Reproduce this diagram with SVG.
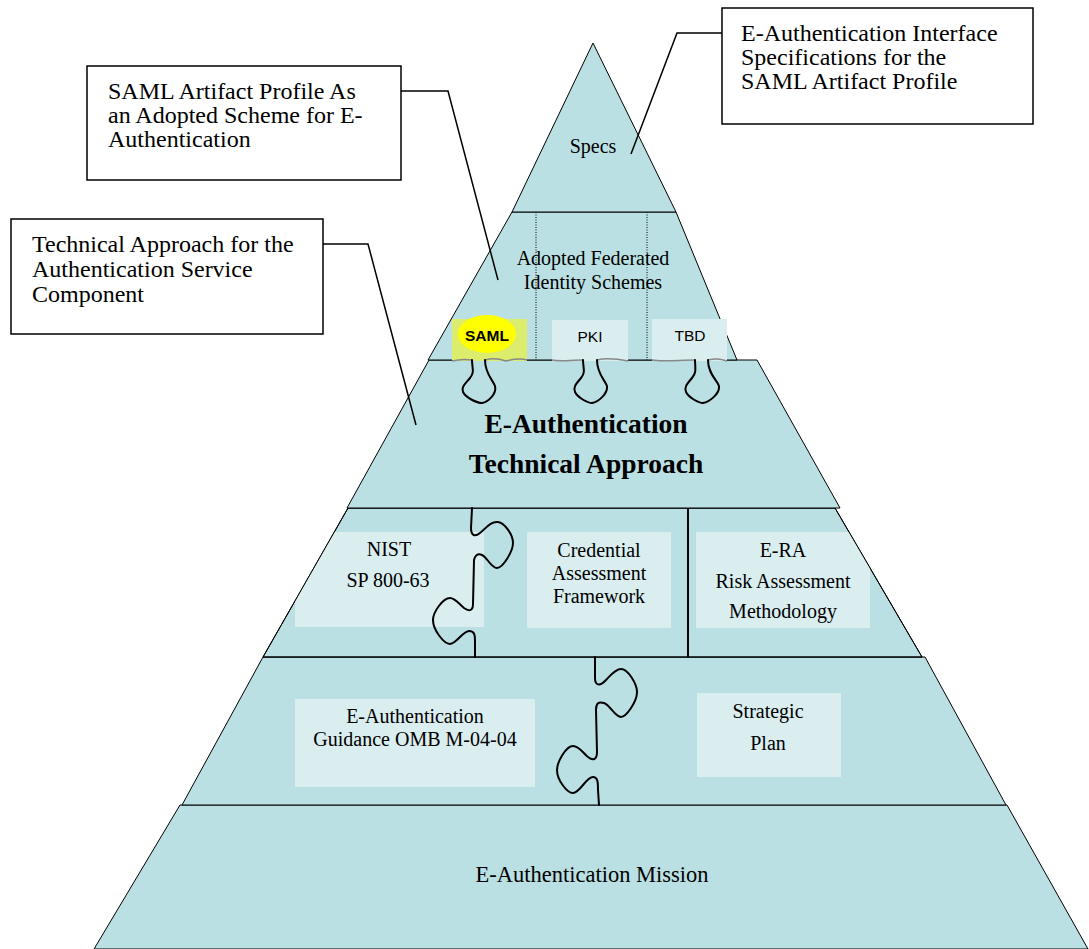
<svg xmlns="http://www.w3.org/2000/svg" width="1089" height="949" viewBox="0 0 1089 949">
<defs>
<style>
.sec{fill:#BAE0E3;stroke:#000;stroke-width:1}
.box{fill:#DAEEF0}
.t{font-family:"Liberation Serif","Times New Roman",serif;fill:#000;text-anchor:middle}
.s{font-family:"Liberation Sans",Arial,sans-serif;fill:#000;text-anchor:middle;font-size:15.5px}
.call{fill:#fff;stroke:#000;stroke-width:1.5}
.ct{font-family:"Liberation Serif","Times New Roman",serif;fill:#000;font-size:24px}
.pz{fill:none;stroke:#000;stroke-width:2;stroke-linecap:round;stroke-linejoin:round}
.gz{fill:none;stroke:#888;stroke-width:1.5}
.ln{fill:none;stroke:#000;stroke-width:1.5}
.dot{stroke:#000;stroke-width:1;stroke-dasharray:1,1.5}
</style>
<clipPath id="c4"><polygon points="348,508 835,508 922,657 263,657"/></clipPath>
</defs>
<rect width="1089" height="949" fill="#fff"/>

<g id="mission">
<polygon class="sec" points="180,805 1007,805 1088,949 94,949"/>
<text class="t" x="592" y="882" font-size="22.5">E-Authentication Mission</text>
</g>

<g id="guidance-layer">
<polygon class="sec" points="263,657 925,657 1006,805 182,805"/>
<g id="omb">
<rect class="box" x="295" y="699" width="240" height="88"/>
<text class="t" x="415" y="723" font-size="20">E-Authentication</text>
<text class="t" x="415" y="746" font-size="20">Guidance OMB M-04-04</text>
</g>
<g id="strategic">
<rect class="box" x="697" y="693" width="144" height="84"/>
<text class="t" x="768" y="718" font-size="20">Strategic</text>
<text class="t" x="768" y="750" font-size="20">Plan</text>
</g>
</g>

<g id="standards-layer">
<polygon class="sec" points="348,508 835,508 922,657 263,657"/>
<g clip-path="url(#c4)">
<rect class="box" x="295" y="532" width="189" height="95"/>
<rect class="box" x="527" y="532" width="144" height="96"/>
<rect class="box" x="696" y="532" width="174" height="96"/>
</g>
<polygon points="348,508 835,508 922,657 263,657" fill="none" stroke="#000" stroke-width="1"/>
<line x1="688" y1="508" x2="688" y2="657" stroke="#000" stroke-width="2"/>
<g id="nist">
<text class="t" x="389" y="556" font-size="20">NIST</text>
<text class="t" x="388" y="587" font-size="20">SP 800-63</text>
</g>
<g id="caf">
<text class="t" x="599" y="557" font-size="20">Credential</text>
<text class="t" x="599" y="580" font-size="20">Assessment</text>
<text class="t" x="599" y="603" font-size="20">Framework</text>
</g>
<g id="era">
<text class="t" x="783" y="557" font-size="20">E-RA</text>
<text class="t" x="783" y="588" font-size="20">Risk Assessment</text>
<text class="t" x="783" y="618" font-size="20">Methodology</text>
</g>
</g>

<g id="technical-approach">
<polygon class="sec" points="429,360 757,360 840,508 347,508"/>
<text class="t" x="586" y="433" font-size="27.5" font-weight="bold">E-Authentication</text>
<text class="t" x="586" y="473" font-size="27.5" font-weight="bold">Technical Approach</text>
</g>

<g id="schemes-layer">
<polygon class="sec" points="512,212 676,212 737,360 428,360"/>
<line class="dot" x1="536" y1="212" x2="536" y2="360"/>
<line class="dot" x1="647" y1="212" x2="647" y2="360"/>
<text class="t" x="593" y="265" font-size="20">Adopted Federated</text>
<text class="t" x="593" y="289" font-size="20">Identity Schemes</text>
<g id="saml">
<rect x="452" y="319" width="75" height="42" fill="#DCEC6C"/>
<ellipse cx="487" cy="334" rx="29" ry="19" fill="#FFFF00"/>
<text class="s" x="487" y="341" font-weight="bold">SAML</text>
</g>
<g id="pki">
<rect class="box" x="552" y="320" width="76" height="41"/>
<text class="s" x="590" y="342">PKI</text>
</g>
<g id="tbd">
<rect class="box" x="652" y="319" width="75" height="42"/>
<text class="s" x="690" y="341">TBD</text>
</g>
<path class="gz" d="M452,361 C460,359 466,359 472,360 M485,360 C492,358 500,359 506,361 C514,359 520,358 527,360"/>
<path class="gz" d="M552,360 C560,362 570,360 583,360 M597,360 C605,358 612,358 628,361"/>
<path class="gz" d="M652,360 C662,362 680,360 695,360 M708,360 C716,358 720,359 727,361"/>
</g>

<g id="specs">
<polygon class="sec" points="593,43 676,212 512,212"/>
<text class="t" x="593" y="153" font-size="20">Specs</text>
</g>

<g id="puzzle">
<path class="pz" d="M472,360 C472,368 475,372 470,378 C465,384 461,387 463,392 C466,398 477,403 482,403 C488,402 497,394 495,386 C493,380 485,374 485,360"/>
<path class="pz" d="M583,360 C583,368 586,372 581,378 C576,384 573,387 575,392 C578,398 588,403 592,403 C598,402 608,394 607,386 C605,380 597,374 597,360"/>
<path class="pz" d="M695,360 C695,368 697,372 692,378 C687,384 684,387 686,392 C689,398 699,403 703,403 C709,402 720,394 719,386 C717,380 708,374 708,360"/>
<path class="pz" d="M472,508 L471,528 C471,536 475,537 480,533 C486,528 491,521 498,522 C505,523 513,535 513,543 C513,551 503,568 497,568 C491,568 487,557 482,555 C477,553 475,556 474,560 L473,604 C473,612 468,611 464,608 C459,604 455,598 450,598 C443,598 433,612 433,620 C433,630 444,644 450,644 C456,644 463,631 469,631 C475,631 475,636 475,641 L475,657"/>
<path class="pz" d="M595,657 L595,678 C595,686 600,686 605,681 C610,676 615,669 621,669 C628,669 637,684 637,692 C637,702 626,717 621,717 C615,717 610,705 604,703 C598,701 596,704 596,710 L597,752 C597,760 593,761 588,757 C583,753 579,746 573,746 C566,746 557,762 557,770 C557,780 567,793 573,793 C580,793 586,777 593,777 C598,777 598,783 598,790 L599,805"/>
</g>

<g id="callout-interface">
<rect class="call" x="722" y="8" width="311" height="116"/>
<text class="ct" x="741" y="41">E-Authentication Interface</text>
<text class="ct" x="741" y="65">Specifications for the</text>
<text class="ct" x="741" y="89">SAML Artifact Profile</text>
</g>

<g id="callout-saml">
<rect class="call" x="87" y="66" width="314" height="114"/>
<text class="ct" x="108" y="99">SAML Artifact Profile As</text>
<text class="ct" x="108" y="123">an Adopted Scheme for E-</text>
<text class="ct" x="108" y="147">Authentication</text>
</g>

<g id="callout-technical">
<rect class="call" x="11" y="219" width="312" height="115"/>
<text class="ct" x="32" y="252">Technical Approach for the</text>
<text class="ct" x="32" y="277">Authentication Service</text>
<text class="ct" x="32" y="302">Component</text>
</g>

<g id="connectors">
<polyline class="ln" points="722,33 677,33 631,154"/>
<polyline class="ln" points="401,91 448,91 498,280"/>
<polyline class="ln" points="323,244 368,244 416,425"/>
</g>
</svg>
